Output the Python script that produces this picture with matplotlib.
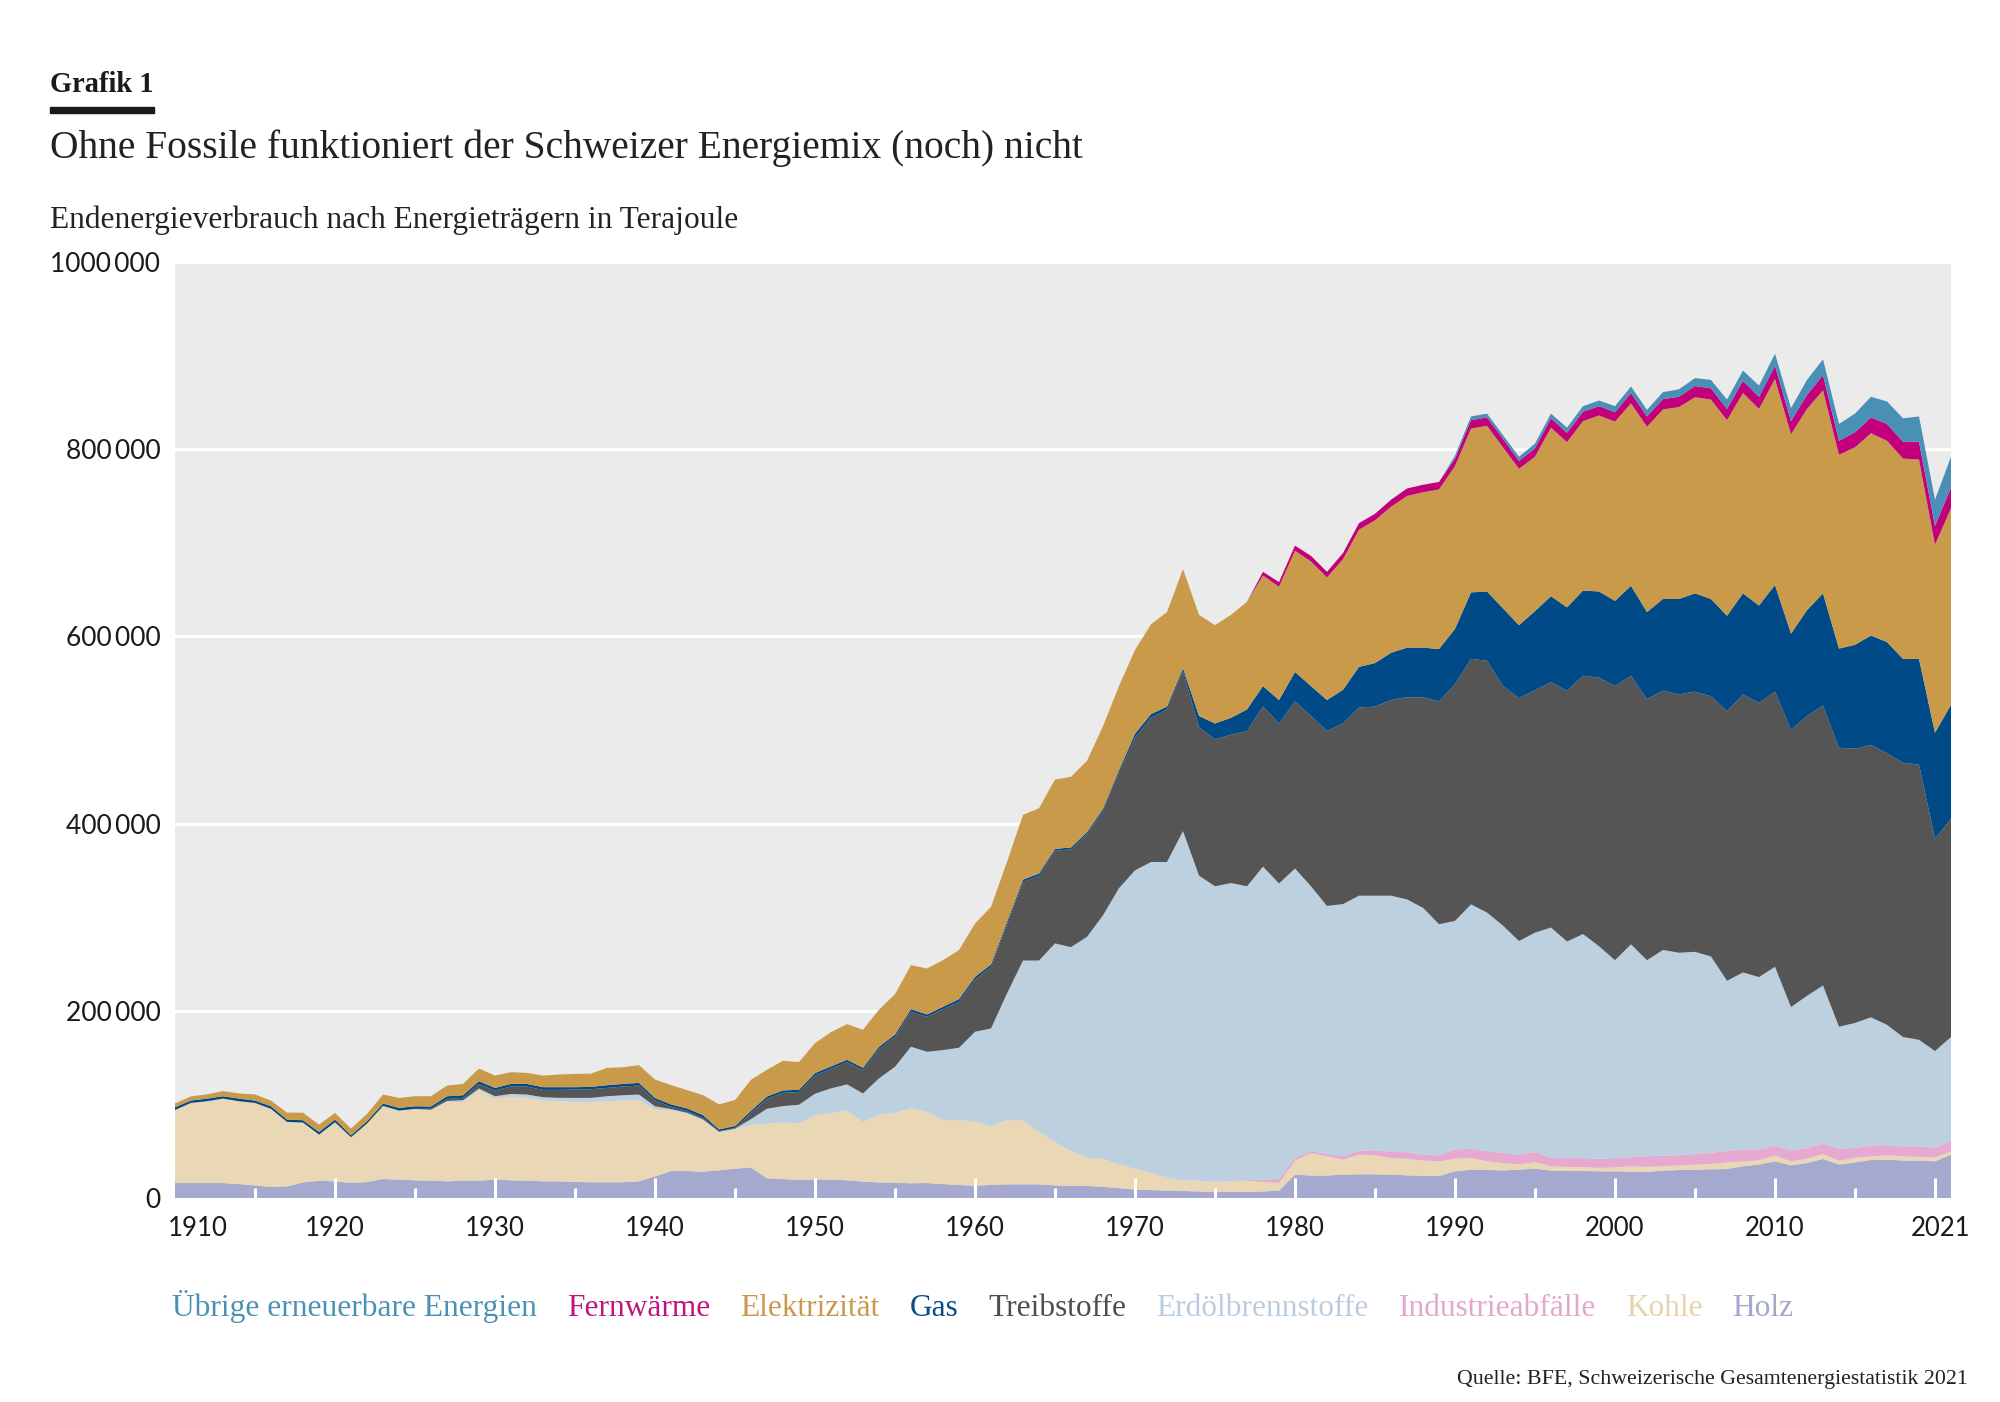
import numpy as np
import matplotlib
matplotlib.use("Agg")
import matplotlib.pyplot as plt
from matplotlib.transforms import ScaledTranslation
from matplotlib.patches import Rectangle

# ---------------- data (thousand TJ) ----------------
years = list(range(1910, 2022))

holz = [16, 16, 16, 16, 14.9, 13.5, 11.8, 12.5, 16.6, 18.5,
        17.8, 16.0, 17.1, 20.3, 19.6, 18.9, 18.5, 17.8, 18.5, 18.5,
        19.6, 18.9, 18.5, 17.8, 17.8, 17.1, 16.8, 16.8, 16.8, 17.8,
        23.0, 28.8, 28.8, 28.1, 29.5, 31.3, 32.7, 21.0, 20.3, 19.2,
        19.9, 19.6, 18.9, 17.4, 16.7, 16.4, 15.7, 16.0, 14.9, 13.9,
        13.2, 13.9, 14.6, 14.6, 14.6, 13.5, 13.0, 12.8, 12.0, 10.5,
        9.0, 8.5, 8.0, 7.5, 7.0, 6.5, 6.5, 6.5, 7.0, 7.8,
        25.0, 24.0, 24.0, 25.0, 25.3, 25.3, 25.0, 24.2, 23.8, 23.5,
        28.5, 30.3, 30.0, 29.5, 30.3, 31.4, 29.2, 29.2, 28.9, 28.5,
        28.5, 28.2, 27.8, 29.2, 29.9, 30.3, 30.7, 31.0, 33.9, 35.7,
        39.2, 34.9, 37.4, 41.7, 35.7, 38.1, 40.6, 41.0, 40.0, 40.0,
        39.2, 46.3]

kohle = [78, 85.6, 87.4, 90.2, 88.5, 88.1, 83.4, 68.8, 64.0, 49.2,
         63.1, 48.9, 62.4, 78.1, 73.8, 76.3, 75.8, 84.9, 84.2, 96.3,
         86.6, 89.5, 88.4, 86.3, 85.6, 85.6, 85.9, 86.6, 87.3, 87.0,
         71.5, 65.1, 61.6, 55.2, 41.0, 42.4, 45.6, 58.4, 60.8, 60.2,
         68.4, 71.1, 74.7, 63.7, 72.2, 74.7, 80.4, 76.2, 68.4, 69.4,
         68.3, 63.1, 68.7, 68.0, 56.2, 46.5, 37.0, 30.2, 30.0, 25.5,
         22.5, 18.5, 14.0, 11.5, 11.5, 10.5, 11.5, 12.0, 10.0, 8.2,
         15.0, 24.0, 20.6, 16.0, 21.0, 20.3, 17.8, 17.8, 16.2, 15.7,
         13.5, 12.5, 9.2, 7.9, 5.4, 7.1, 4.7, 4.0, 4.3, 3.6,
         4.3, 5.7, 5.4, 5.0, 4.7, 5.4, 5.7, 7.1, 5.3, 4.6,
         6.1, 4.3, 4.6, 5.3, 4.2, 4.7, 4.0, 4.6, 4.6, 3.9,
         4.3, 3.7]

industrieabfaelle = [0, 0, 0, 0, 0, 0, 0, 0, 0, 0,
                     0, 0, 0, 0, 0, 0, 0, 0, 0, 0,
                     0, 0, 0, 0, 0, 0, 0, 0, 0, 0,
                     0, 0, 0, 0, 0, 0, 0, 0, 0, 0,
                     0, 0, 0, 0, 0, 0, 0, 0, 0, 0,
                     0, 0, 0, 0, 0, 0, 0, 0, 0, 0,
                     0, 0, 0, 0, 0, 0, 0, 0.5, 2.6, 4.3,
                     3.0, 2.0, 2.4, 3.6, 4.3, 5.4, 6.4, 7.0, 6.3, 6.4,
                     9.7, 10.0, 10.8, 10.7, 10.6, 10.7, 8.9, 9.6, 9.6, 9.6,
                     10.0, 9.6, 11.4, 11.1, 11.0, 11.3, 11.7, 12.5, 12.5, 11.4,
                     10.7, 11.8, 11.5, 10.8, 12.9, 10.7, 11.4, 10.7, 10.6, 11.3,
                     10.0, 10.6]

erdoelbrennstoffe = [0, 0, 0, 0, 0, 0, 0, 0, 0, 0,
                     0, 0, 0, 0, 0, 0, 0, 1.0, 1.8, 2.2,
                     2.5, 2.8, 3.6, 3.6, 3.6, 4.3, 4.3, 5.3, 5.7, 5.7,
                     3.5, 1.1, 0.7, 0.7, 0.3, 0.4, 6.0, 16.0, 17.1, 20.2,
                     23.1, 26.4, 27.8, 30.6, 38.9, 49.1, 65.5, 64.0, 74.7, 77.2,
                     96.1, 104.1, 135.2, 171.1, 182.9, 212, 218, 236, 260, 295,
                     318.5, 332, 337, 373, 326, 316, 318.5, 314, 334.4, 315.7,
                     309, 283, 265, 269.4, 272.4, 272, 273.8, 270, 263.7, 246.9,
                     244.3, 260.9, 255, 242.9, 228.2, 234.3, 246.2, 231.2, 239.2, 227.3,
                     211.2, 227.5, 209.4, 219.7, 216.4, 216, 209.9, 181.4, 189.3, 184.3,
                     191, 153, 162.5, 169.2, 130.2, 133.5, 137, 128.7, 116.8, 113.8,
                     103.5, 111.4]

treibstoffe = [0, 0, 0, 0, 0, 0, 0, 0, 0, 0,
               0, 0, 0, 0, 0, 0, 1.0, 2.2, 2.5, 4.9,
               6.1, 7.9, 8.6, 7.8, 8.5, 8.9, 9.2, 8.9, 9.3, 9.6,
               6.4, 2.5, 1.8, 1.8, 0.5, 0.8, 6.4, 10.6, 14.2, 13.6,
               19.6, 21.0, 23.8, 25.0, 31.3, 32.0, 37.4, 37.4, 43.8, 49.1,
               55.9, 65.8, 73.7, 84.0, 90.4, 99, 104.5, 110, 112, 123,
               142, 154, 163, 171, 158.5, 157, 158.5, 166, 171, 171,
               178.5, 182, 187, 193, 201, 202, 209, 216, 225, 238,
               253, 262.3, 269, 256, 259.5, 259, 262, 268, 276, 287,
               293, 287, 279, 277, 276, 278, 278, 288, 297, 293,
               294, 296, 299, 299, 298, 293, 291, 290, 293, 294,
               227, 233]

gas = [3.0, 2.5, 2.8, 2.5, 2.8, 2.5, 2.8, 2.5, 2.5, 2.9,
       2.9, 2.1, 2.5, 2.5, 2.9, 2.8, 2.5, 2.8, 2.8, 2.9,
       2.8, 2.8, 2.8, 2.9, 2.9, 2.5, 2.5, 2.9, 2.8, 2.9,
       2.5, 2.5, 2.8, 2.8, 2.0, 2.0, 2.5, 2.5, 2.5, 2.5,
       2.5, 2.5, 2.5, 2.4, 2.5, 2.5, 2.8, 2.5, 2.5, 2.9,
       2.8, 2.6, 2.7, 2.5, 2.5, 2.0, 2.0, 2.0, 2.0, 3.0,
       4, 4, 3, 3, 12, 17, 18, 23, 22, 25,
       31.5, 32, 33, 36, 43.5, 46.5, 50.5, 53, 53, 56,
       59, 71, 74, 83, 78, 84.5, 92, 89, 91, 92,
       91, 96, 93, 98, 102, 105, 104, 102, 108, 104,
       114, 103, 113, 120, 106, 111, 117, 119, 111, 113,
       113, 122]

elektrizitaet = [4.0, 4.5, 4.5, 5.5, 5.5, 6.5, 6.0, 7.5, 8.0, 7.8,
                 7.1, 7.2, 7.8, 9.6, 10.6, 10.7, 11.0, 11.4, 12.1, 13.5,
                 13.2, 12.5, 11.8, 12.4, 13.5, 14.2, 14.2, 18.5, 17.8, 18.9,
                 19.7, 20.6, 19.6, 21.3, 26.7, 27.7, 33.1, 28.5, 31.7, 29.5,
                 32.0, 36.6, 38.1, 40.6, 39.5, 43.1, 47.0, 49.1, 49.8, 52.3,
                 56.9, 61.5, 64.2, 69.1, 69.8, 74, 75.5, 76, 88, 90,
                 89.5, 96, 101, 106, 108, 105, 110, 115, 118, 121,
                 129.5, 133, 131, 139.5, 146.5, 152.5, 156, 162, 166, 170.5,
                 174, 175, 177, 172, 167, 165, 180, 176.5, 181, 188,
                 191.5, 195, 198, 202.5, 205, 209.5, 213, 209, 214, 210,
                 220, 213, 215, 217, 207, 211, 216, 215, 214, 213,
                 201, 210]

fernwaerme = [0, 0, 0, 0, 0, 0, 0, 0, 0, 0,
              0, 0, 0, 0, 0, 0, 0, 0, 0, 0,
              0, 0, 0, 0, 0, 0, 0, 0, 0, 0,
              0, 0, 0, 0, 0, 0, 0, 0, 0, 0,
              0, 0, 0, 0, 0, 0, 0, 0, 0, 0,
              0, 0, 0, 0, 0, 0, 0, 0, 0, 0,
              0, 0, 0, 0, 0, 0, 0, 0, 4, 5,
              5.5, 6, 6, 6.5, 7, 7, 7.5, 8, 8, 8,
              8, 9, 9, 9, 8.5, 9, 10, 10, 10, 10,
              10, 11, 11, 11, 11, 12, 12, 12, 13, 13,
              14, 14, 15, 16, 15, 16, 17, 18, 18, 19,
              20, 22]

uebrige_erneuerbare = [0, 0, 0, 0, 0, 0, 0, 0, 0, 0,
                       0, 0, 0, 0, 0, 0, 0, 0, 0, 0,
                       0, 0, 0, 0, 0, 0, 0, 0, 0, 0,
                       0, 0, 0, 0, 0, 0, 0, 0, 0, 0,
                       0, 0, 0, 0, 0, 0, 0, 0, 0, 0,
                       0, 0, 0, 0, 0, 0, 0, 0, 0, 0,
                       0, 0, 0, 0, 0, 0, 0, 0, 0, 0,
                       0, 0, 0, 0, 0, 0, 0, 0, 0, 0,
                       3, 4, 4, 4, 4.5, 5, 5, 5.5, 6, 6,
                       6.5, 7, 7, 7.5, 8, 8.5, 9, 10, 11, 12,
                       13, 14, 16, 17, 18, 20, 22, 24, 25, 27,
                       28, 33]

series_names = ["Holz", "Kohle", "Industrieabfälle", "Erdölbrennstoffe",
                "Treibstoffe", "Gas", "Elektrizität", "Fernwärme",
                "Übrige erneuerbare Energien"]
series_colors = ["#a5a9cf", "#e9d7b5", "#e6a9cf", "#bdd0e0",
                 "#555555", "#004a87", "#c89a4a", "#c2007b", "#4a8fb5"]
legend_text_colors = ["#a3a7cc", "#e6d3ad", "#e4a6cb", "#b9cde0",
                      "#4d4d4d", "#0b4a8b", "#c8994a", "#c0157e", "#4a90b4"]

ytick_values = [0, 200000, 400000, 600000, 800000, 1000000]
ytick_labels = ["0", "200\u2009000", "400\u2009000", "600\u2009000",
                "800\u2009000", "1000\u2009000"]
xlabel_years = [1910, 1920, 1930, 1940, 1950, 1960, 1970, 1980, 1990, 2000, 2010, 2021]
xlabel_texts = ["1910", "1920", "1930", "1940", "1950", "1960", "1970",
                "1980", "1990", "2000", "2010", "2021"]
xtick_major = [1920, 1930, 1940, 1950, 1960, 1970, 1980, 1990, 2000, 2010, 2020]
xtick_minor = [1915, 1925, 1935, 1945, 1955, 1965, 1975, 1985, 1995, 2005, 2015]

title_kicker = "Grafik 1"
title = "Ohne Fossile funktioniert der Schweizer Energiemix (noch) nicht"
subtitle = "Endenergieverbrauch nach Energieträgern in Terajoule"
source = "Quelle: BFE, Schweizerische Gesamtenergiestatistik 2021"

# ---------------- figure ----------------
W, H = 2000, 1402
fig = plt.figure(figsize=(W / 100, H / 100), dpi=100)
fig.patch.set_facecolor("white")
renderer = fig.canvas.get_renderer()

SERIF = ["Liberation Serif", "DejaVu Serif"]
SANS = ["Lato", "DejaVu Sans"]


def fx(x):
    return x / W


def fy(y):
    return 1 - y / H


ax = fig.add_axes([fx(175), fy(1198), (1951 - 175) / W, (1198 - 262) / H])
ax.set_facecolor("#ebebeb")

stack = [np.array(s) * 1000 for s in
         (holz, kohle, industrieabfaelle, erdoelbrennstoffe, treibstoffe,
          gas, elektrizitaet, fernwaerme, uebrige_erneuerbare)]
ax.stackplot(years, *stack, colors=series_colors, linewidth=0, zorder=1)

ax.set_xlim(1910, 2021)
ax.set_ylim(0, 1000000)
for s in ax.spines.values():
    s.set_visible(False)

for v in ytick_values[1:]:
    ax.axhline(v, color="white", lw=2.3, zorder=0.5)

ax.set_axisbelow(False)
ax.set_yticks(ytick_values, labels=ytick_labels)
ax.tick_params(axis="y", length=0, pad=10.5, labelsize=19, labelcolor="#1a1a1a")
for lab in ax.get_yticklabels():
    lab.set_fontfamily(SANS)

ax.set_xticks(xtick_major)
ax.set_xticks(xtick_minor, minor=True)
ax.tick_params(axis="x", which="major", direction="in", length=14.4, width=2.2,
               color="white", labelbottom=False)
ax.tick_params(axis="x", which="minor", direction="in", length=7.2, width=2.2,
               color="white", labelbottom=False)

sec = ax.secondary_xaxis("bottom")
sec.set_xticks(xlabel_years, labels=xlabel_texts)
sec.tick_params(length=0, pad=13, labelsize=18.5, labelcolor="#1a1a1a")
sec.spines["bottom"].set_visible(False)
labs = sec.get_xticklabels()
for lab in labs:
    lab.set_fontfamily(SANS)
labs[0].set_transform(labs[0].get_transform() + ScaledTranslation(0.23, 0, fig.dpi_scale_trans))
labs[-1].set_transform(labs[-1].get_transform() + ScaledTranslation(-0.10, 0, fig.dpi_scale_trans))


def fitted_text(x, y, s, width, ha="left", **kw):
    t = fig.text(fx(x), fy(y), s, ha=ha, va="baseline", fontsize=20, **kw)
    w = t.get_window_extent(renderer).width
    t.set_fontsize(20 * width / w)
    return t


fitted_text(50, 92, title_kicker, 104, family=SERIF, fontweight="bold", color="#1a1a1a")
fig.add_artist(Rectangle((fx(50), fy(113)), 104 / W, 6 / H, color="#1a1a1a",
                         transform=fig.transFigure))
fitted_text(50, 158, title, 1034, family=SERIF, color="#222222")
fitted_text(50, 228, subtitle, 687, family=SERIF, color="#222222")
fitted_text(1968, 1384, source, 511, ha="right", family=SERIF, color="#222222")

# legend: text-only coloured labels, topmost layer first
leg_names = series_names[::-1]
leg_cols = legend_text_colors[::-1]
probe = fig.text(0, 0, leg_names[0], fontsize=20, family=SERIF)
leg_fs = 20 * 364 / probe.get_window_extent(renderer).width
probe.remove()
x = 172
for name, col in zip(leg_names, leg_cols):
    t = fig.text(fx(x), fy(1316), name, fontsize=leg_fs, family=SERIF,
                 color=col, va="baseline", ha="left")
    x += t.get_window_extent(renderer).width + 30

fig.savefig("out.png", dpi=100, facecolor="white")
